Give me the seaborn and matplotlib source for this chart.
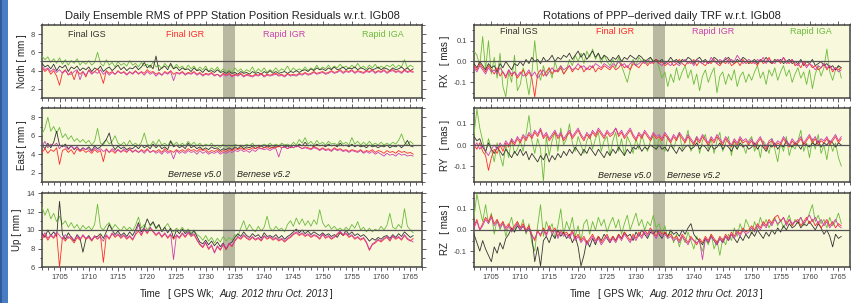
import numpy as np
import pandas as pd
import matplotlib
matplotlib.use("Agg")
import matplotlib.pyplot as plt
from matplotlib.ticker import MultipleLocator, FormatStrFormatter
from matplotlib.patches import Rectangle
import seaborn as sns

# ---------------- data (GPS week, sampled every half week) ----------------
weeks = [1702 + 0.5 * k for k in range(128)]
products = ["Rapid IGA", "Final IGS", "Final IGR", "Rapid IGR"]
colors = {"Final IGS": "#333333", "Final IGR": "#ff2b2b",
          "Rapid IGR": "#c940b0", "Rapid IGA": "#6cbb3c"}

north_iga = [5.6, 5.2, 5.5, 4.9, 5.3, 4.8, 5.4, 4.7, 5.2, 4.6, 5.1, 4.8, 5.3, 4.6, 5.0, 4.7,
             5.1, 4.6, 4.9, 6.0, 4.8, 4.5, 5.2, 4.6, 4.9, 4.4, 5.0, 4.6, 4.8, 4.5, 5.1, 4.6,
             4.8, 4.4, 4.9, 4.5, 4.7, 4.3, 5.0, 4.4, 4.6, 4.2, 4.8, 4.4, 4.6, 4.2, 4.7, 4.3,
             4.5, 4.1, 4.6, 4.2, 4.5, 4.0, 4.4, 4.1, 4.5, 3.9, 4.3, 4.0, 4.4, 3.9, 4.2, 3.9,
             4.1, 3.8, 4.3, 3.9, 4.2, 3.8, 4.1, 3.9, 4.4, 3.8, 4.2, 3.9, 4.3, 3.8, 4.1, 3.9,
             4.3, 3.9, 4.2, 4.0, 4.5, 3.9, 4.3, 4.0, 4.2, 4.0, 4.4, 4.0, 4.3, 4.1, 4.6, 4.1,
             4.4, 4.2, 4.6, 4.2, 4.5, 4.3, 4.7, 4.3, 4.5, 4.2, 4.6, 4.3, 4.8, 4.3, 4.5, 4.2,
             4.6, 4.3, 4.7, 4.2, 4.5, 4.3, 4.6, 4.4, 4.7, 4.3, 4.6, 4.4, 5.2, 4.3, 4.6, 4.4]
north_igs = [4.8, 4.4, 4.6, 4.2, 4.7, 4.0, 4.5, 4.3, 4.6, 3.9, 4.4, 4.2, 4.5, 4.0, 4.3, 4.1,
             4.4, 3.9, 4.3, 4.1, 4.5, 3.9, 4.2, 4.4, 4.0, 4.3, 4.6, 4.1, 4.4, 4.0, 4.3, 4.2,
             4.5, 4.1, 4.4, 4.9, 4.3, 4.6, 4.2, 5.6, 4.0, 4.3, 4.5, 4.1, 4.8, 4.2, 4.4, 4.0,
             4.3, 4.1, 4.2, 3.9, 4.3, 4.0, 4.1, 3.8, 4.2, 3.9, 4.0, 3.8, 4.1, 3.8, 3.9, 3.7,
             3.9, 3.7, 3.8, 3.6, 3.9, 3.7, 3.8, 3.6, 3.9, 3.7, 3.8, 3.6, 3.9, 3.7, 4.0, 3.7,
             3.9, 3.7, 3.8, 3.9, 3.7, 3.9, 3.8, 4.0, 3.8, 4.0, 4.1, 3.9, 4.2, 4.0, 4.3, 4.1,
             4.2, 4.0, 4.3, 4.1, 4.4, 4.1, 4.2, 4.4, 4.1, 4.3, 4.2, 4.4, 4.1, 4.3, 4.2, 4.0,
             4.3, 4.1, 4.2, 4.4, 4.1, 4.3, 4.2, 4.0, 4.3, 4.1, 4.2, 4.4, 4.1, 4.3, 4.0, 4.2]
north_igr = [4.3, 3.9, 4.2, 3.6, 4.0, 3.4, 2.4, 3.8, 4.1, 3.5, 3.9, 3.0, 4.0, 3.6, 3.9, 3.3,
             4.1, 3.7, 3.9, 4.2, 3.6, 2.6, 4.0, 3.7, 3.9, 3.6, 4.0, 3.7, 3.9, 3.6, 3.8, 3.7,
             4.0, 3.6, 3.9, 3.7, 4.1, 3.8, 3.9, 3.6, 3.8, 3.5, 3.9, 3.7, 4.0, 3.6, 3.8, 3.7,
             3.9, 3.6, 3.8, 3.7, 3.9, 3.6, 3.8, 3.5, 3.7, 3.6, 3.8, 3.5, 3.6, 3.4, 3.7, 3.5,
             3.7, 3.4, 3.6, 3.5, 3.7, 3.4, 3.6, 3.5, 3.4, 3.6, 3.5, 3.7, 3.4, 3.6, 3.5, 3.6,
             3.7, 3.5, 3.6, 3.4, 3.7, 3.5, 3.6, 3.5, 3.7, 3.6, 3.8, 3.6, 3.7, 3.9, 3.7, 3.8,
             3.9, 3.7, 3.8, 4.0, 3.8, 3.9, 4.1, 3.8, 4.0, 3.9, 4.1, 3.8, 4.0, 3.9, 3.8, 4.0,
             3.9, 4.1, 3.8, 4.0, 3.9, 4.1, 3.8, 4.0, 4.1, 3.9, 4.0, 3.8, 4.1, 3.9, 4.0, 3.9]
north_rigr = [4.5, 4.1, 4.3, 3.9, 4.2, 3.8, 4.1, 3.7, 4.0, 3.6, 3.6, 3.9, 4.1, 3.0, 3.9, 3.5,
              4.0, 3.6, 3.9, 3.7, 4.1, 3.6, 3.9, 3.5, 3.8, 3.6, 3.9, 3.7, 3.8, 3.5, 3.9, 3.6,
              3.9, 3.7, 3.8, 3.5, 3.9, 3.6, 3.8, 3.4, 3.7, 3.5, 3.8, 3.6, 3.9, 2.9, 3.8, 3.6,
              3.8, 3.5, 3.7, 3.6, 3.8, 3.5, 3.7, 3.4, 3.6, 3.5, 3.7, 3.4, 3.6, 3.3, 3.6, 3.4,
              3.6, 3.3, 3.5, 3.4, 3.6, 3.3, 3.5, 3.4, 3.3, 3.5, 3.4, 3.6, 3.3, 3.5, 3.4, 3.5,
              3.6, 3.4, 3.5, 3.3, 3.6, 3.4, 3.5, 3.4, 3.6, 3.5, 3.7, 3.5, 3.6, 3.8, 3.6, 3.7,
              3.8, 3.6, 3.7, 3.9, 3.7, 3.8, 4.0, 3.7, 3.9, 3.8, 4.0, 3.7, 3.9, 3.8, 3.7, 3.9,
              3.8, 4.0, 3.7, 3.9, 3.8, 4.0, 3.7, 3.9, 4.0, 3.8, 3.9, 3.7, 4.0, 3.8, 3.9, 3.8]

east_iga = [6.2, 6.8, 8.0, 6.5, 7.0, 6.3, 6.9, 5.8, 6.2, 5.6, 6.0, 5.4, 5.7, 5.3, 5.6, 5.2,
            5.5, 5.0, 5.4, 6.8, 5.2, 5.0, 5.6, 5.1, 5.4, 6.0, 5.2, 5.0, 5.3, 4.9, 5.5, 5.0,
            5.2, 4.9, 5.3, 6.3, 5.1, 4.9, 5.4, 5.0, 5.6, 5.0, 5.2, 4.9, 5.5, 5.0, 5.3, 4.9,
            5.2, 4.9, 5.4, 5.0, 5.3, 4.9, 5.2, 4.8, 5.1, 4.9, 5.2, 4.8, 5.0, 4.7, 5.1, 4.8,
            5.0, 4.8, 5.1, 4.9, 5.0, 4.8, 5.1, 4.9, 5.2, 4.8, 5.0, 4.9, 5.1, 4.9, 5.2, 4.9,
            5.1, 4.9, 5.2, 5.0, 5.1, 4.9, 5.3, 5.0, 5.6, 5.2, 5.8, 5.1, 5.4, 5.0, 5.5, 5.1,
            5.3, 5.0, 5.4, 5.1, 5.2, 5.0, 5.5, 5.1, 5.3, 5.0, 5.8, 5.1, 5.4, 5.0, 5.3, 5.0,
            5.4, 5.0, 5.2, 5.0, 5.3, 5.0, 5.2, 5.0, 5.3, 5.1, 5.5, 6.2, 5.3, 5.0, 5.4, 5.1]
east_igs = [5.0, 4.6, 5.2, 4.7, 5.3, 6.5, 5.0, 4.8, 5.1, 4.6, 4.9, 4.5, 4.8, 4.4, 4.7, 4.5,
            4.8, 4.4, 4.9, 4.6, 4.8, 5.2, 5.6, 6.3, 5.0, 4.5, 4.9, 4.6, 4.8, 4.5, 4.7, 4.6,
            4.9, 4.6, 5.0, 4.7, 4.9, 4.6, 5.1, 4.7, 5.0, 4.6, 4.8, 4.5, 5.4, 4.8, 5.0, 4.7,
            4.9, 4.6, 5.2, 4.7, 4.9, 4.6, 4.8, 4.5, 4.7, 4.5, 4.8, 4.6, 4.7, 4.4, 4.6, 4.5,
            4.7, 4.5, 4.8, 4.6, 4.9, 4.6, 4.8, 4.7, 4.9, 4.6, 4.8, 4.9, 4.7, 4.9, 4.8, 4.7,
            4.9, 4.8, 5.0, 4.8, 4.9, 4.7, 5.0, 4.8, 5.1, 4.9, 5.3, 4.9, 5.0, 4.8, 5.1, 4.9,
            5.0, 4.8, 5.1, 4.9, 5.0, 4.8, 5.2, 4.9, 5.0, 4.8, 5.1, 4.8, 5.0, 4.8, 4.9, 4.7,
            5.0, 4.8, 4.9, 4.7, 4.9, 4.8, 5.0, 4.7, 4.9, 4.8, 5.0, 4.7, 5.0, 5.5, 4.9, 4.8]
east_igr = [4.2, 4.6, 4.1, 4.5, 4.3, 4.7, 2.9, 4.4, 4.6, 4.2, 4.5, 4.0, 4.6, 4.3, 4.5, 4.2,
            4.4, 4.1, 4.5, 4.2, 4.4, 3.2, 4.6, 4.2, 4.4, 4.1, 4.5, 4.3, 4.4, 4.2, 4.6, 4.3,
            4.4, 4.2, 4.5, 4.3, 4.6, 4.2, 4.4, 4.3, 4.5, 4.2, 4.6, 4.3, 4.4, 4.2, 4.5, 4.3,
            4.5, 4.3, 4.6, 4.4, 4.5, 4.3, 4.6, 4.4, 4.5, 4.2, 4.4, 4.3, 4.5, 4.2, 4.4, 4.3,
            4.5, 4.4, 4.6, 4.5, 4.7, 4.5, 4.6, 4.5, 4.7, 4.6, 4.8, 4.6, 4.7, 4.8, 4.6, 4.8,
            4.7, 4.9, 4.7, 4.8, 4.6, 4.8, 4.7, 4.9, 4.8, 4.6, 4.8, 4.7, 4.6, 4.8, 4.7, 4.5,
            4.7, 4.5, 4.6, 4.4, 4.7, 4.5, 4.6, 4.4, 4.5, 4.3, 4.5, 4.4, 4.3, 4.5, 4.2, 4.4,
            4.3, 4.5, 4.2, 4.4, 4.3, 4.1, 4.4, 4.2, 4.3, 4.1, 4.4, 4.2, 4.3, 4.1, 4.2, 4.0]
east_rigr = [4.8, 5.4, 4.7, 5.1, 4.9, 5.2, 4.6, 5.0, 4.8, 4.5, 4.9, 4.6, 4.8, 4.4, 4.7, 4.5,
             4.6, 4.3, 4.7, 4.4, 4.6, 4.3, 4.5, 4.2, 4.6, 4.3, 4.5, 4.2, 4.6, 4.3, 4.5, 4.2,
             4.5, 4.2, 4.4, 4.1, 4.5, 4.2, 4.4, 4.1, 4.3, 4.0, 4.4, 4.1, 4.3, 3.5, 4.4, 4.1,
             4.3, 4.1, 4.4, 4.2, 4.3, 4.0, 4.4, 4.1, 4.3, 4.0, 4.2, 4.1, 4.3, 4.0, 4.2, 4.1,
             4.3, 4.2, 4.4, 4.3, 4.5, 4.3, 4.4, 4.2, 4.5, 4.3, 4.6, 4.6, 4.5, 4.6, 4.4, 4.6,
             4.6, 3.7, 4.7, 4.8, 4.6, 4.8, 4.7, 4.9, 4.8, 4.6, 4.7, 4.6, 4.5, 4.7, 4.6, 4.4,
             4.6, 4.4, 4.5, 4.3, 4.6, 4.4, 4.5, 4.3, 4.4, 4.2, 4.4, 4.3, 4.2, 4.4, 4.1, 4.3,
             4.1, 4.3, 4.0, 4.2, 4.0, 3.8, 4.1, 3.9, 4.0, 3.8, 4.1, 3.9, 4.0, 3.8, 3.9, 3.8]

up_iga = [12.5, 11.6, 12.3, 11.2, 11.8, 10.9, 11.5, 10.6, 11.0, 10.3, 10.8, 10.2, 10.6, 10.0, 10.5, 10.1,
          10.4, 10.0, 10.6, 12.8, 10.3, 10.0, 10.5, 10.8, 10.1, 10.6, 10.2, 9.9, 10.4, 10.0, 10.3, 9.9,
          10.5, 11.4, 10.2, 10.6, 10.0, 10.4, 10.8, 10.1, 10.5, 9.9, 10.3, 10.7, 10.1, 9.8, 10.2, 9.9,
          10.3, 9.8, 10.1, 9.7, 10.0, 9.5, 9.3, 8.9, 9.4, 8.8, 9.2, 8.6, 9.1, 8.7, 9.3, 8.8,
          9.2, 8.9, 9.5, 9.3, 10.2, 11.0, 10.0, 10.6, 10.1, 9.8, 10.4, 9.9, 10.3, 11.5, 10.2, 9.9,
          10.4, 10.0, 10.2, 9.8, 10.6, 11.0, 10.4, 11.3, 10.6, 11.2, 10.5, 11.0, 10.4, 11.1, 10.6, 12.2,
          10.8, 10.3, 10.6, 10.1, 10.4, 10.0, 10.2, 9.9, 10.3, 10.0, 10.6, 10.2, 10.9, 10.0, 10.3, 9.8,
          10.2, 9.8, 10.1, 9.9, 10.4, 10.0, 10.5, 11.8, 10.3, 10.1, 10.6, 10.2, 12.3, 10.4, 10.0, 9.7]
up_igs = [9.6, 9.2, 10.0, 9.4, 9.8, 9.3, 13.1, 9.5, 9.0, 9.7, 9.2, 8.8, 9.5, 9.1, 7.6, 9.0,
          9.4, 8.9, 9.3, 9.3, 9.6, 9.1, 9.8, 10.6, 10.0, 9.5, 9.9, 9.4, 9.7, 9.3, 9.8, 9.4,
          10.0, 10.8, 9.8, 10.3, 11.2, 10.5, 10.9, 10.2, 10.6, 9.8, 10.3, 9.7, 10.2, 9.1, 10.0, 9.6,
          10.1, 9.6, 10.0, 9.5, 9.9, 9.3, 8.7, 8.5, 8.9, 8.4, 8.8, 8.3, 8.7, 8.2, 8.6, 7.9,
          8.5, 8.7, 9.2, 9.6, 9.3, 9.8, 9.4, 9.2, 9.6, 9.3, 9.5, 9.1, 9.7, 9.3, 9.4, 9.2,
          9.5, 9.1, 9.4, 9.0, 9.3, 9.5, 9.8, 10.1, 9.7, 10.0, 9.6, 9.9, 9.5, 9.8, 9.6, 9.4,
          9.7, 9.4, 9.6, 9.3, 9.5, 9.2, 9.7, 9.4, 10.0, 9.5, 9.8, 9.4, 9.6, 9.3, 9.5, 9.2,
          8.8, 9.1, 8.9, 9.2, 9.0, 9.3, 9.4, 9.1, 9.5, 9.2, 9.6, 9.3, 9.8, 9.5, 9.2, 9.4]
up_igr = [9.0, 9.5, 8.9, 9.4, 9.1, 9.6, 6.0, 9.2, 8.8, 9.3, 9.0, 8.6, 9.2, 8.9, 9.4, 9.0,
          9.2, 8.8, 9.3, 9.0, 9.4, 6.5, 9.4, 9.0, 9.6, 9.2, 9.5, 9.1, 9.4, 9.0, 9.3, 8.9,
          9.5, 9.9, 9.4, 10.1, 9.6, 10.2, 9.8, 9.4, 9.7, 9.2, 9.6, 9.1, 9.5, 9.0, 9.4, 9.1,
          9.6, 9.2, 9.7, 9.3, 9.5, 8.9, 8.4, 8.1, 8.6, 7.9, 8.3, 7.6, 8.2, 7.8, 8.4, 7.9,
          8.5, 8.2, 8.8, 9.2, 9.0, 9.4, 9.1, 8.9, 9.2, 8.9, 9.1, 8.8, 9.3, 9.0, 9.2, 8.9,
          9.1, 8.8, 9.0, 8.7, 9.0, 9.2, 9.5, 9.7, 9.4, 9.6, 9.3, 9.5, 9.2, 9.4, 9.3, 9.0,
          9.5, 9.1, 9.3, 9.0, 9.2, 9.5, 9.8, 9.4, 9.6, 9.2, 9.4, 9.0, 9.2, 8.9, 9.1, 8.6,
          7.8, 8.4, 8.6, 8.9, 8.7, 9.0, 9.2, 8.8, 9.3, 9.0, 9.2, 8.9, 9.4, 9.0, 8.8, 9.1]
up_rigr = [9.3, 9.7, 9.1, 9.5, 9.2, 9.8, 9.4, 9.0, 9.5, 9.1, 9.3, 8.9, 9.4, 9.0, 9.5, 9.1,
           9.3, 8.9, 9.4, 9.1, 9.2, 8.8, 9.5, 9.1, 9.7, 9.3, 9.6, 9.2, 9.5, 9.1, 9.4, 9.0,
           9.6, 10.6, 9.5, 10.2, 9.7, 10.3, 9.9, 9.5, 9.8, 9.3, 9.7, 9.2, 9.6, 6.8, 9.5, 9.2,
           9.7, 9.3, 9.8, 9.4, 9.6, 9.0, 8.5, 8.2, 8.7, 8.0, 8.4, 7.5, 8.3, 7.9, 8.5, 8.0,
           8.6, 8.3, 8.9, 9.3, 9.1, 9.5, 9.2, 9.0, 9.3, 9.0, 9.2, 8.9, 9.4, 9.1, 9.3, 9.0,
           9.2, 8.9, 9.1, 8.8, 9.1, 9.3, 9.6, 9.8, 9.5, 9.7, 9.4, 9.6, 9.3, 9.5, 9.4, 9.1,
           9.6, 9.2, 9.4, 9.1, 9.3, 9.6, 9.9, 9.5, 9.7, 9.3, 9.5, 9.1, 9.3, 9.0, 9.2, 8.7,
           7.9, 8.5, 8.7, 9.0, 8.8, 9.1, 9.3, 8.9, 9.4, 9.1, 9.3, 9.0, 9.5, 9.1, 8.9, 8.7]

rx_iga = [0.05, 0.03, -0.02, 0.12, -0.04, 0.10, -0.06, 0.02, -0.08, 0.04, -0.12, -0.17, -0.05, -0.10, 0.03, -0.14,
          -0.11, -0.03, -0.08, -0.16, -0.06, 0.10, -0.04, -0.09, -0.02, -0.07, -0.03, -0.08, 0.00, -0.05, -0.02, -0.06,
          -0.04, 0.01, -0.02, 0.03, 0.00, 0.04, -0.01, 0.05, 0.02, 0.06, 0.01, 0.04, -0.01, 0.03, 0.00, -0.02,
          0.01, -0.03, 0.02, -0.02, -0.06, -0.10, -0.04, 0.01, -0.02, 0.02, 0.00, 0.01, -0.01, 0.02, 0.00, 0.01,
          -0.03, -0.08, -0.05, -0.12, -0.06, -0.10, -0.03, -0.09, -0.05, -0.02, -0.08, -0.04, -0.11, -0.06, -0.14, -0.07,
          -0.04, -0.10, -0.06, -0.03, -0.15, -0.07, -0.05, -0.11, -0.06, -0.09, -0.04, -0.12, -0.07, -0.05, -0.10, -0.06,
          -0.09, -0.05, -0.02, -0.08, -0.05, -0.11, -0.04, -0.07, -0.03, -0.09, -0.05, -0.02, -0.07, -0.04, -0.10, -0.06,
          -0.03, -0.08, -0.05, -0.11, -0.04, -0.13, -0.06, -0.02, -0.07, -0.03, 0.06, -0.05, -0.09, -0.04, -0.02, -0.08]
rx_igs = [-0.01, -0.03, 0.00, -0.02, -0.04, -0.01, -0.03, -0.02, -0.05, -0.01, -0.03, 0.00, -0.02, -0.04, -0.01, -0.02,
          0.00, -0.02, 0.01, -0.01, 0.02, 0.00, 0.01, -0.01, 0.02, 0.00, 0.01, 0.03, 0.00, 0.02, 0.01, 0.03,
          0.02, 0.04, 0.01, 0.03, 0.05, 0.02, 0.04, 0.01, 0.03, 0.05, 0.02, 0.04, 0.01, 0.03, 0.02, 0.00,
          0.02, 0.01, 0.03, 0.00, 0.02, 0.01, 0.03, 0.02, 0.01, 0.03, 0.02, 0.00, 0.01, 0.02, 0.00, 0.01,
          0.00, 0.01, -0.01, 0.00, 0.02, 0.00, 0.01, -0.01, 0.01, 0.00, 0.02, 0.01, -0.01, 0.01, 0.02, 0.00,
          0.01, -0.01, 0.00, 0.02, 0.01, -0.01, 0.00, 0.01, 0.02, 0.00, -0.01, 0.01, 0.00, 0.02, 0.01, -0.01,
          0.00, 0.01, -0.01, 0.01, 0.00, 0.02, 0.00, -0.01, 0.01, 0.00, 0.01, -0.01, 0.00, 0.01, -0.01, 0.00,
          -0.01, 0.01, -0.02, 0.00, -0.01, 0.01, -0.02, -0.01, 0.00, -0.02, -0.01, -0.03, -0.02, -0.04, -0.02, -0.03]
rx_igr = [-0.02, -0.04, -0.01, -0.03, -0.05, -0.02, -0.04, -0.06, -0.03, -0.07, -0.05, -0.08, -0.04, -0.07, -0.05, -0.08,
          -0.06, -0.04, -0.07, -0.05, -0.08, -0.17, -0.06, -0.04, -0.07, -0.05, -0.03, -0.06, -0.04, -0.05, -0.03, -0.06,
          -0.04, -0.02, -0.05, -0.03, -0.04, -0.02, -0.05, -0.03, -0.04, -0.02, -0.05, -0.03, -0.04, -0.02, -0.03, -0.04,
          -0.02, -0.04, -0.03, -0.01, -0.03, -0.02, -0.04, -0.01, -0.02, -0.03, -0.01, 0.00, -0.02, 0.00, -0.01, 0.01,
          -0.01, 0.00, -0.02, -0.01, 0.00, -0.02, -0.01, 0.01, -0.01, -0.02, 0.00, -0.01, 0.01, -0.02, 0.00, -0.01,
          -0.02, 0.00, -0.01, 0.01, -0.01, -0.02, 0.00, -0.01, 0.01, -0.02, -0.01, 0.00, -0.02, 0.01, -0.01, 0.00,
          -0.01, 0.00, -0.02, 0.01, -0.01, 0.00, 0.02, -0.01, 0.00, 0.01, -0.01, 0.02, 0.00, -0.01, 0.01, -0.02,
          -0.01, -0.03, 0.00, -0.02, -0.01, -0.03, -0.02, -0.04, -0.03, -0.01, -0.04, -0.02, -0.05, -0.03, -0.04, -0.03]
rx_rigr = [-0.03, -0.05, -0.02, -0.04, -0.06, -0.03, -0.05, -0.04, -0.06, -0.03, -0.05, -0.07, -0.04, -0.06, -0.05, -0.07,
           -0.05, -0.07, -0.06, -0.04, -0.07, -0.05, -0.08, -0.06, -0.04, -0.07, -0.05, -0.03, -0.05, -0.04, -0.02, -0.04,
           -0.03, -0.02, -0.04, -0.03, -0.01, -0.03, -0.02, -0.04, -0.02, -0.03, -0.01, -0.02, -0.03, -0.01, -0.02, -0.03,
           -0.01, -0.02, 0.00, -0.02, -0.01, -0.03, -0.01, 0.00, -0.02, -0.01, 0.00, -0.01, 0.01, -0.01, 0.00, 0.00,
           -0.01, -0.02, 0.00, -0.01, -0.02, 0.00, -0.01, -0.02, 0.00, 0.01, -0.01, 0.00, -0.02, 0.01, 0.00, -0.01,
           0.00, -0.01, 0.02, 0.00, -0.01, 0.01, 0.00, 0.02, -0.01, 0.01, 0.00, 0.03, 0.01, -0.01, 0.00, 0.01,
           0.00, -0.01, 0.01, 0.00, 0.02, -0.01, 0.01, 0.00, -0.01, 0.01, 0.00, 0.02, -0.01, 0.00, 0.01, -0.01,
           -0.02, 0.00, -0.01, -0.03, -0.01, -0.02, -0.04, -0.02, -0.03, -0.01, -0.03, -0.02, -0.04, -0.03, -0.05, -0.04]

ry_iga = [0.05, 0.17, 0.08, 0.02, -0.04, 0.03, -0.02, -0.08, 0.01, -0.05, -0.10, 0.00, -0.06, 0.03, -0.04, -0.02,
          0.02, -0.03, 0.05, 0.14, 0.02, -0.04, 0.03, -0.02, -0.17, 0.04, -0.05, 0.02, 0.06, -0.03, 0.08, 0.00,
          0.03, 0.10, 0.01, -0.03, 0.04, 0.00, -0.04, 0.02, 0.05, -0.02, 0.03, 0.06, -0.03, 0.02, 0.04, -0.05,
          0.02, 0.06, -0.03, 0.03, -0.05, 0.04, 0.01, -0.04, 0.03, -0.02, 0.05, 0.00, -0.03, 0.02, 0.04, -0.02,
          0.03, 0.00, -0.03, 0.04, 0.01, -0.02, 0.03, 0.06, -0.02, 0.02, 0.07, -0.03, 0.01, 0.04, -0.04, 0.02,
          0.05, -0.02, 0.03, -0.04, 0.02, 0.06, -0.03, 0.01, 0.04, -0.05, 0.02, -0.02, 0.03, 0.00, -0.04, 0.02,
          0.04, -0.03, 0.01, -0.06, 0.02, 0.00, -0.04, 0.03, -0.02, -0.08, 0.01, -0.03, 0.04, -0.05, 0.00, -0.02,
          0.02, 0.07, -0.03, 0.01, -0.06, 0.03, -0.02, 0.05, -0.04, 0.00, -0.07, 0.02, -0.03, 0.01, -0.06, -0.10]
ry_igs = [0.04, 0.02, 0.03, -0.01, -0.03, 0.01, -0.02, -0.04, -0.01, -0.03, -0.05, -0.02, -0.04, -0.06, -0.03, -0.05,
          -0.02, -0.05, -0.03, -0.07, -0.04, -0.06, -0.08, -0.05, -0.07, -0.04, -0.08, -0.05, -0.07, -0.04, -0.06, -0.03,
          -0.05, -0.02, -0.04, -0.01, -0.03, -0.05, -0.02, -0.04, -0.01, -0.03, -0.05, -0.02, -0.04, -0.06, -0.03, -0.05,
          -0.02, -0.04, -0.01, -0.03, -0.05, -0.02, -0.04, -0.01, -0.02, 0.00, -0.03, -0.01, -0.02, 0.00, -0.01, -0.02,
          0.00, -0.02, -0.01, -0.03, 0.00, -0.02, -0.04, -0.01, -0.03, -0.01, 0.00, -0.02, -0.01, 0.01, -0.02, 0.00,
          -0.01, -0.03, 0.00, -0.02, -0.01, 0.01, -0.02, 0.00, -0.01, -0.03, 0.00, -0.02, 0.01, -0.01, 0.00, -0.02,
          -0.01, 0.01, -0.02, 0.00, -0.01, -0.03, 0.00, -0.01, 0.01, -0.02, 0.00, -0.01, 0.02, 0.00, -0.01, 0.01,
          0.00, -0.02, 0.01, 0.00, -0.01, 0.01, 0.00, 0.02, -0.01, 0.01, 0.00, 0.02, 0.01, -0.01, 0.01, 0.00]
ry_igr = [0.00, -0.02, 0.01, -0.03, -0.05, -0.12, -0.06, -0.02, -0.04, 0.00, -0.03, 0.01, -0.01, 0.02, 0.00, 0.03,
          0.01, 0.04, 0.02, 0.05, 0.03, 0.06, 0.04, 0.07, 0.03, 0.05, 0.02, 0.04, 0.06, 0.03, 0.05, 0.02,
          0.04, 0.06, 0.03, 0.05, 0.07, 0.04, 0.02, 0.05, 0.03, 0.06, 0.04, 0.07, 0.05, 0.03, 0.06, 0.04,
          0.05, 0.08, 0.04, 0.06, 0.03, 0.05, 0.07, 0.04, 0.02, 0.05, 0.03, 0.06, 0.04, 0.02, 0.05, 0.03,
          0.04, 0.02, 0.05, 0.03, 0.01, 0.04, 0.02, 0.05, 0.03, 0.01, 0.04, 0.02, 0.00, 0.03, 0.01, 0.04,
          0.02, 0.00, 0.03, 0.01, 0.04, 0.02, 0.00, 0.03, 0.01, -0.01, 0.02, 0.00, 0.03, 0.01, 0.02, 0.00,
          0.02, -0.01, 0.01, 0.03, 0.00, -0.02, 0.01, 0.02, -0.01, 0.01, 0.00, 0.03, 0.01, -0.01, 0.02, 0.00,
          0.01, 0.03, 0.00, 0.02, 0.04, 0.01, 0.03, 0.00, 0.02, 0.01, 0.03, 0.00, 0.02, 0.04, 0.01, 0.03]
ry_rigr = [-0.01, 0.01, -0.02, 0.00, -0.03, -0.05, -0.02, 0.00, -0.02, 0.01, -0.01, 0.02, 0.00, 0.03, 0.01, 0.04,
           0.02, 0.05, 0.03, 0.06, 0.04, 0.07, 0.05, 0.08, 0.04, 0.06, 0.03, 0.05, 0.07, 0.04, 0.06, 0.03,
           0.05, 0.07, 0.04, 0.06, 0.08, 0.05, 0.03, 0.06, 0.04, 0.07, 0.05, 0.08, 0.06, 0.04, 0.07, 0.05,
           0.06, 0.08, 0.05, 0.07, 0.04, 0.06, 0.08, 0.05, 0.03, 0.06, 0.04, 0.07, 0.05, 0.03, 0.06, 0.04,
           0.05, 0.03, 0.06, 0.04, 0.02, 0.05, 0.03, 0.06, 0.04, 0.02, 0.05, 0.03, 0.01, 0.04, 0.02, 0.05,
           0.03, 0.01, 0.04, 0.02, 0.05, 0.03, 0.01, 0.04, 0.02, 0.00, 0.03, 0.01, 0.04, 0.02, 0.03, 0.01,
           0.03, 0.00, 0.02, 0.04, 0.01, -0.01, 0.02, 0.03, 0.00, 0.02, 0.01, 0.04, 0.02, 0.00, 0.03, 0.01,
           0.02, 0.04, 0.01, 0.03, 0.05, 0.02, 0.04, 0.01, 0.03, 0.02, 0.04, 0.01, 0.03, 0.05, 0.02, 0.04]

rz_iga = [0.06, 0.17, 0.10, 0.04, 0.12, 0.03, 0.08, -0.02, 0.05, 0.00, 0.04, -0.03, 0.02, 0.06, -0.01, 0.04,
          0.01, 0.05, -0.02, 0.03, -0.06, -0.10, 0.02, 0.12, -0.03, 0.04, 0.00, 0.03, -0.04, 0.02, 0.10, -0.02,
          0.04, 0.00, 0.06, -0.03, 0.02, -0.05, 0.03, 0.05, -0.02, 0.04, 0.00, 0.06, 0.02, 0.05, -0.01, 0.03,
          0.06, 0.01, 0.05, -0.02, 0.03, 0.07, 0.00, 0.04, 0.08, 0.02, 0.05, 0.00, 0.04, 0.02, 0.07, 0.01,
          0.03, -0.02, 0.02, -0.04, 0.00, -0.06, -0.02, -0.08, -0.03, -0.06, -0.01, -0.05, -0.09, -0.03, -0.06, -0.10,
          -0.04, -0.07, -0.02, -0.09, -0.05, -0.12, -0.04, -0.07, -0.02, -0.05, 0.01, -0.03, 0.03, -0.01, 0.05, 0.02,
          -0.02, 0.04, 0.00, 0.06, 0.02, 0.05, 0.01, 0.04, 0.06, 0.02, 0.05, 0.01, 0.04, 0.07, 0.02, 0.05,
          0.03, 0.06, 0.02, 0.05, 0.08, 0.12, 0.04, 0.07, 0.03, 0.05, 0.01, 0.06, 0.02, 0.04, 0.08, 0.03]
rz_igs = [-0.02, -0.06, -0.10, -0.05, -0.09, -0.12, -0.15, -0.08, -0.11, -0.06, -0.09, -0.04, -0.02, 0.01, -0.01, 0.02,
          0.00, 0.02, -0.01, 0.01, -0.03, -0.15, -0.08, -0.17, -0.05, -0.03, -0.06, -0.02, -0.04, 0.00, -0.03, -0.01,
          -0.04, -0.02, -0.06, -0.03, -0.08, -0.17, -0.12, -0.05, -0.08, -0.04, -0.07, -0.03, -0.05, -0.02, -0.04, -0.06,
          -0.03, -0.05, -0.02, -0.04, -0.01, -0.03, -0.02, -0.05, -0.01, -0.03, 0.00, -0.02, -0.04, -0.01, -0.02, 0.00,
          -0.02, -0.04, -0.01, -0.03, 0.00, -0.02, -0.01, -0.03, 0.00, -0.02, 0.01, 0.03, -0.02, -0.04, -0.05, -0.07,
          -0.04, -0.06, -0.03, -0.05, -0.07, -0.04, -0.06, -0.03, -0.05, -0.02, -0.04, -0.06, -0.03, -0.05, -0.02, -0.04,
          -0.01, -0.03, 0.00, -0.02, -0.04, -0.01, -0.03, 0.00, -0.02, 0.01, -0.01, 0.02, 0.00, 0.03, 0.01, 0.02,
          0.04, 0.01, 0.03, 0.02, 0.04, 0.02, 0.00, 0.03, 0.01, -0.02, 0.00, -0.03, -0.08, -0.02, -0.04, -0.03]
rz_igr = [0.02, 0.05, 0.00, 0.03, 0.06, 0.04, 0.07, 0.03, 0.05, 0.02, 0.04, 0.01, 0.03, 0.00, 0.02, 0.04,
          0.01, 0.03, 0.00, 0.02, -0.02, -0.05, 0.00, -0.03, 0.01, -0.02, 0.02, -0.01, 0.01, -0.03, 0.00, -0.02,
          -0.01, -0.03, 0.00, -0.04, -0.02, -0.05, -0.03, -0.06, -0.04, -0.02, -0.05, -0.03, -0.06, -0.04, -0.02, -0.05,
          -0.03, -0.05, -0.02, -0.04, -0.01, -0.03, -0.05, -0.02, -0.04, -0.01, -0.03, 0.00, -0.02, 0.01, -0.01, -0.03,
          0.00, -0.02, -0.01, -0.03, -0.02, -0.04, -0.03, -0.05, -0.02, -0.04, -0.06, -0.03, -0.05, -0.07, -0.04, -0.06,
          -0.03, -0.05, -0.02, -0.04, -0.06, -0.03, -0.05, -0.02, -0.04, -0.01, -0.03, 0.00, -0.02, 0.01, -0.01, 0.00,
          0.02, 0.00, 0.03, 0.01, 0.04, 0.02, 0.05, 0.03, 0.06, 0.07, 0.04, 0.06, 0.03, 0.05, 0.02, 0.04,
          0.05, 0.02, 0.04, 0.06, 0.03, 0.05, 0.02, 0.04, 0.01, 0.03, 0.05, 0.02, 0.04, 0.01, 0.03, 0.02]
rz_rigr = [0.01, 0.04, 0.00, 0.02, 0.05, 0.03, 0.06, 0.02, 0.04, 0.01, 0.03, 0.00, 0.02, -0.01, 0.01, 0.03,
           0.00, 0.02, -0.01, 0.01, -0.03, -0.04, -0.01, -0.02, 0.00, -0.03, 0.01, -0.02, 0.00, -0.04, -0.01, -0.03,
           -0.02, -0.04, -0.01, -0.05, -0.03, -0.06, -0.04, -0.07, -0.05, -0.03, -0.06, -0.04, -0.07, -0.05, -0.03, -0.06,
           -0.04, -0.06, -0.03, -0.05, -0.02, -0.04, -0.06, -0.03, -0.05, -0.02, -0.04, -0.01, -0.03, 0.00, -0.02, -0.04,
           -0.01, -0.03, -0.02, -0.04, -0.03, -0.05, -0.04, -0.06, -0.03, -0.05, -0.07, -0.04, -0.05, -0.06, -0.05, -0.14,
           -0.04, -0.06, -0.03, -0.05, -0.07, -0.04, -0.06, -0.03, -0.05, -0.02, -0.04, -0.01, -0.03, 0.00, -0.02, -0.01,
           0.01, -0.01, 0.02, 0.00, 0.03, 0.01, 0.04, 0.02, 0.05, 0.03, 0.04, 0.06, 0.02, 0.05, 0.03, 0.04,
           0.04, 0.06, 0.03, 0.05, 0.07, 0.04, 0.06, 0.03, 0.05, 0.02, 0.04, 0.01, 0.03, 0.05, 0.02, 0.01]

panel_data = {
    "north": {"Final IGS": north_igs, "Final IGR": north_igr, "Rapid IGR": north_rigr, "Rapid IGA": north_iga},
    "east": {"Final IGS": east_igs, "Final IGR": east_igr, "Rapid IGR": east_rigr, "Rapid IGA": east_iga},
    "up": {"Final IGS": up_igs, "Final IGR": up_igr, "Rapid IGR": up_rigr, "Rapid IGA": up_iga},
    "rx": {"Final IGS": rx_igs, "Final IGR": rx_igr, "Rapid IGR": rx_rigr, "Rapid IGA": rx_iga},
    "ry": {"Final IGS": ry_igs, "Final IGR": ry_igr, "Rapid IGR": ry_rigr, "Rapid IGA": ry_iga},
    "rz": {"Final IGS": rz_igs, "Final IGR": rz_igr, "Rapid IGR": rz_rigr, "Rapid IGA": rz_iga},
}
legend_x = {"Final IGS": 1709.7, "Final IGR": 1726.4, "Rapid IGR": 1743.4, "Rapid IGA": 1760.3}

# ---------------- style ----------------
sns.set_style("ticks")
plt.rcParams["font.family"] = ["Liberation Sans", "DejaVu Sans"]
plt.rcParams["axes.unicode_minus"] = True

W, H = 851, 303
fig = plt.figure(figsize=(W / 100, H / 100), dpi=100)
fig.patch.set_facecolor("white")
fig.patches.append(Rectangle((0, 0), 8 / W, 1, transform=fig.transFigure,
                             facecolor="#4a7cc4", edgecolor="none", zorder=0))
fig.patches.append(Rectangle((0, 0), 2 / W, 1, transform=fig.transFigure,
                             facecolor="#2f5a9c", edgecolor="none", zorder=0))

def px_rect(x0, x1, top, bottom):
    return [x0 / W, 1 - bottom / H, (x1 - x0) / W, (bottom - top) / H]

rows = [(25, 98), (108, 182), (193, 267)]
left_axes = [fig.add_axes(px_rect(42, 422, t, b)) for t, b in rows]
right_axes = [fig.add_axes(px_rect(474, 850, t, b)) for t, b in rows]

configs = [
    (left_axes[0], "north", (1, 9), 5, 2, 1, "North [ mm ]", "%d"),
    (left_axes[1], "east", (1, 9), 5, 2, 1, "East [ mm ]", "%d"),
    (left_axes[2], "up", (6, 14), 10, 2, 1, "Up [ mm ]", "%d"),
    (right_axes[0], "rx", (-0.175, 0.175), 0, 0.1, 0.05, "RX   [ mas ]", "%.1f"),
    (right_axes[1], "ry", (-0.175, 0.175), 0, 0.1, 0.05, "RY   [ mas ]", "%.1f"),
    (right_axes[2], "rz", (-0.175, 0.175), 0, 0.1, 0.05, "RZ   [ mas ]", "%.1f"),
]

for i, (ax, key, ylim, ref, major, minor, ylabel, fmt) in enumerate(configs):
    d = panel_data[key]
    df = pd.DataFrame({
        "week": np.tile(weeks, len(products)),
        "value": np.concatenate([d[p] for p in products]),
        "product": np.repeat(products, len(weeks)),
    })
    ax.set_facecolor("#f8f8dc")
    ax.axvspan(1733, 1735, color="#b9b9a2", zorder=1, lw=0)
    sns.lineplot(data=df, x="week", y="value", hue="product", hue_order=products,
                 palette=colors, estimator=None, sort=False, lw=0.6, legend=False,
                 ax=ax, zorder=3)
    ax.axhline(ref, color="#555555", lw=0.9, zorder=4)
    ax.set_xlim(1702, 1767)
    ax.set_ylim(*ylim)
    ax.xaxis.set_major_locator(MultipleLocator(5))
    ax.xaxis.set_minor_locator(MultipleLocator(1))
    ax.yaxis.set_major_locator(MultipleLocator(major))
    ax.yaxis.set_minor_locator(MultipleLocator(minor))
    ax.yaxis.set_major_formatter(FormatStrFormatter(fmt))
    ax.tick_params(which="both", direction="out", top=True, right=True,
                   colors="#444444", width=0.6, labelsize=5.5, pad=2)
    ax.tick_params(which="major", length=3)
    ax.tick_params(which="minor", length=1.8)
    ax.set_ylabel(ylabel, fontsize=7, color="#222222", labelpad=3)
    ax.set_xlabel("")
    for s in ax.spines.values():
        s.set_color("#444444")
        s.set_linewidth(1.1)
    row = i % 3
    if row < 2:
        ax.set_xticklabels([])
    if row == 0:
        ly = 8.0 if key == "north" else 0.145
        for p in products:
            ax.text(legend_x[p], ly, p, color=colors[p], fontsize=6.5,
                    ha="center", va="center", zorder=5)
    if row == 1:
        by = 1.8 if key == "east" else -0.144
        ax.text(1732.6, by, "Bernese v5.0", style="italic", fontsize=6.5,
                ha="right", va="center", color="#222222", zorder=5)
        ax.text(1735.4, by, "Bernese v5.2", style="italic", fontsize=6.5,
                ha="left", va="center", color="#222222", zorder=5)

left_axes[0].set_title("Daily Ensemble RMS of PPP Station Position Residuals w.r.t. IGb08",
                       fontsize=8, color="#222222", pad=4)
right_axes[0].set_title("Rotations of PPP\u2013derived daily TRF w.r.t. IGb08",
                        fontsize=8, color="#222222", pad=4)

# x-axis label built from pieces (upright + italic), centred under each column
renderer = fig.canvas.get_renderer()
label_parts = [("Time", "normal", 8), ("[ GPS Wk;", "normal", 5),
               ("Aug. 2012 thru Oct. 2013", "italic", 2), ("]", "normal", 0)]
for cx in (232 + 4, 662 + 4):
    pieces = []
    total = 0
    for s, st, gap in label_parts:
        t = fig.text(0, 1 - 294 / H, s, fontsize=7, style=st, color="#222222",
                     ha="left", va="center")
        w = t.get_window_extent(renderer).width
        pieces.append((t, w, gap))
        total += w + gap
    x = cx - total / 2
    for t, w, gap in pieces:
        t.set_x(x / W)
        x += w + gap

fig.savefig("out.png", dpi=100, facecolor="white")
